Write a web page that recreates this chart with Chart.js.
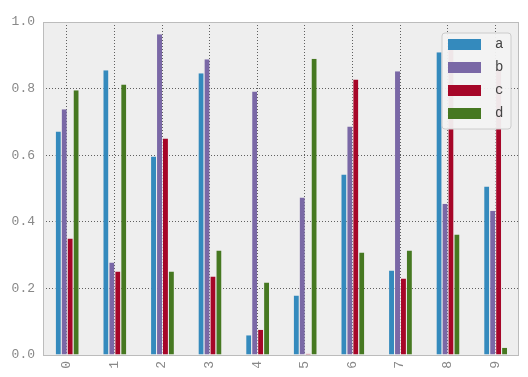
<!DOCTYPE html>
<html>
<head>
<meta charset="utf-8">
<script src="https://cdn.jsdelivr.net/npm/chart.js@4"></script>
<style>
html,body{margin:0;padding:0;background:#fff;}
#wrap{width:528px;height:377px;}
</style>
</head>
<body>
<div id="wrap"><canvas id="c" width="528" height="377"></canvas></div>
<script>
const categories = ['0','1','2','3','4','5','6','7','8','9'];
const seriesA = [0.671,0.855,0.596,0.846,0.059,0.179,0.542,0.254,0.909,0.506];
const seriesB = [0.738,0.278,0.963,0.888,0.791,0.473,0.686,0.852,0.454,0.433];
const seriesC = [0.350,0.251,0.650,0.236,0.076,0.004,0.827,0.230,0.930,0.860];
const seriesD = [0.795,0.812,0.251,0.314,0.218,0.890,0.308,0.314,0.362,0.022];
const yTicks = [0.0,0.2,0.4,0.6,0.8,1.0];

const colors = ['#348ABD','#7A68A6','#A60628','#467821'];
const mono = "'Liberation Mono', 'Courier New', monospace";

const bgPlugin = {
  id:'bg',
  beforeDraw(chart){
    const {ctx, chartArea:a} = chart;
    ctx.save();
    ctx.fillStyle = '#EEEEEE';
    ctx.fillRect(a.left, a.top, a.right-a.left, a.bottom-a.top);
    ctx.restore();
  },
  afterDatasetsDraw(chart){
    const {ctx, chartArea:a} = chart;
    ctx.save();
    ctx.strokeStyle = '#bcbcbc';
    ctx.lineWidth = 1;
    ctx.strokeRect(a.left+0.5, a.top+0.5, a.right-a.left-1, a.bottom-a.top);
    ctx.restore();
  }
};

const legendPlugin = {
  id:'innerLegend',
  afterDraw(chart){
    const {ctx, chartArea:a} = chart;
    const ds = chart.data.datasets;
    const x0 = a.right - 77, y0 = a.top + 11, w = 69, h = 96;
    ctx.save();
    ctx.beginPath();
    const r = 3;
    ctx.moveTo(x0+r, y0);
    ctx.arcTo(x0+w, y0, x0+w, y0+h, r);
    ctx.arcTo(x0+w, y0+h, x0, y0+h, r);
    ctx.arcTo(x0, y0+h, x0, y0, r);
    ctx.arcTo(x0, y0, x0+w, y0, r);
    ctx.closePath();
    ctx.fillStyle = 'rgba(242,242,242,0.95)';
    ctx.fill();
    ctx.strokeStyle = '#cccccc';
    ctx.lineWidth = 1;
    ctx.stroke();
    ctx.font = '14px ' + mono;
    ctx.textBaseline = 'middle';
    ctx.textAlign = 'left';
    ds.forEach((d,i)=>{
      const cy = y0 + 11.5 + i*23;
      ctx.fillStyle = d.backgroundColor;
      ctx.fillRect(x0+6, cy-5.5, 33, 11);
      ctx.fillStyle = '#444';
      ctx.fillText(d.label, x0+53, cy);
    });
    ctx.restore();
  }
};

new Chart(document.getElementById('c'), {
  type:'bar',
  data:{
    labels: categories,
    datasets:[
      {label:'a', data:seriesA, backgroundColor:colors[0]},
      {label:'b', data:seriesB, backgroundColor:colors[1]},
      {label:'c', data:seriesC, backgroundColor:colors[2]},
      {label:'d', data:seriesD, backgroundColor:colors[3]}
    ].map(d=>Object.assign(d,{borderColor:'rgba(238,238,238,0.7)', borderWidth:{left:1,right:0,top:0,bottom:0}, borderSkipped:false, categoryPercentage:0.5, barPercentage:1.0}))
  },
  options:{
    responsive:false,
    animation:false,
    devicePixelRatio:1,
    layout:{padding:{top:22,right:9,left:0,bottom:0}},
    plugins:{legend:{display:false}, tooltip:{enabled:false}},
    scales:{
      x:{
        offset:true,
        grid:{display:true, offset:false, color:'rgba(0,0,0,0.6)', lineWidth:1, drawTicks:false},
        border:{display:false, dash:[1,2]},
        ticks:{maxRotation:90, minRotation:90, padding:6, color:'#888', font:{family:mono, size:13}},
        afterFit(s){ s.height = 22; }
      },
      y:{
        min:0, max:1,
        afterBuildTicks(s){ s.ticks = yTicks.map(v=>({value:v})); },
        grid:{color:'rgba(0,0,0,0.6)', lineWidth:1, drawTicks:false},
        border:{display:false, dash:[1,2]},
        ticks:{padding:8, color:'#888', font:{family:mono, size:13}, callback:v=>Number(v).toFixed(1)},
        afterFit(s){ s.width = 43; }
      }
    }
  },
  plugins:[bgPlugin, legendPlugin]
});
</script>
</body>
</html>
